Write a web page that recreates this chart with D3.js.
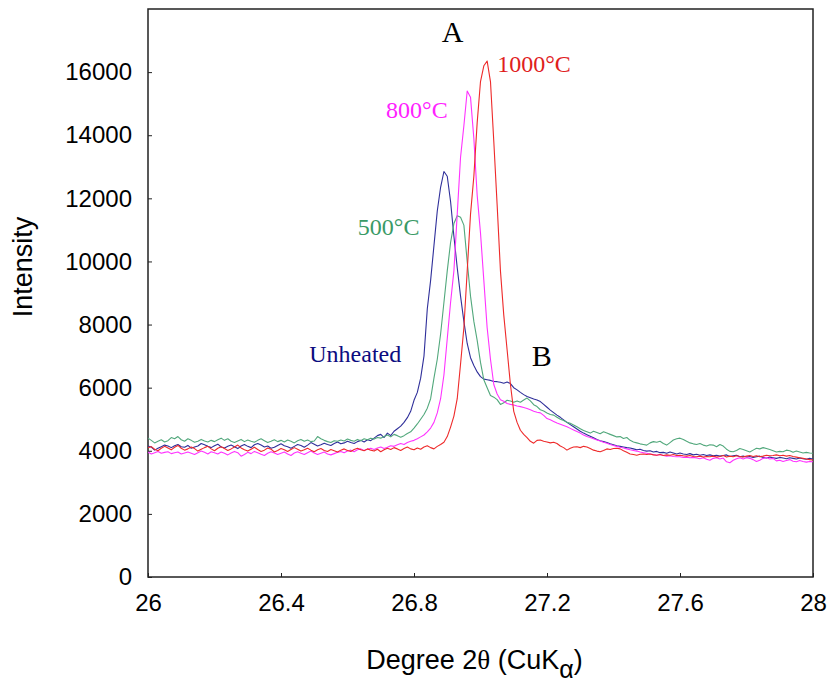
<!DOCTYPE html>
<html>
<head>
<meta charset="utf-8">
<script src="https://cdn.jsdelivr.net/npm/d3@7"></script>
<style>
  html, body { margin: 0; padding: 0; background: #fff; }
  svg { display: block; }
</style>
</head>
<body>
<svg id="chart" width="828" height="683"></svg>
<script>
// ---- data ----
const xStart = 26, xStep = 0.01;
const xTicks = [26, 26.4, 26.8, 27.2, 27.6, 28];
const xTickLabels = ["26", "26.4", "26.8", "27.2", "27.6", "28"];
const yTicks = [0, 2000, 4000, 6000, 8000, 10000, 12000, 14000, 16000];
const yTickLabels = ["0", "2000", "4000", "6000", "8000", "10000", "12000", "14000", "16000"];

const seriesNames = ["Unheated", "500°C", "800°C", "1000°C"];

const unheated = [
 4150,4120,4020,4080,4130,4180,4150,4100,4160,4200,
 4130,4110,4170,4080,4120,4150,4230,4190,4140,4100,
 4160,4210,4120,4090,4140,4180,4130,4070,4150,4200,
 4140,4100,4190,4230,4180,4120,4150,4080,4110,4170,
 4220,4160,4130,4080,4140,4200,4170,4110,4180,4260,
 4210,4150,4190,4240,4200,4170,4230,4280,4220,4250,
 4300,4260,4230,4290,4330,4280,4350,4320,4400,4480,
 4520,4420,4560,4480,4620,4700,4780,4900,5050,5250,
 5600,5850,6300,7000,8500,9400,10500,11600,12350,12850,
 12700,11900,10800,9800,8900,8100,7400,6950,6700,6500,
 6350,6270,6250,6230,6200,6190,6170,6140,6180,6130,
 6000,5930,5850,5780,5720,5680,5640,5610,5560,5470,
 5380,5290,5210,5130,5060,4980,4900,4830,4760,4690,
 4620,4560,4510,4460,4410,4360,4320,4290,4260,4220,
 4190,4160,4140,4120,4100,4090,4060,4030,4050,4010,
 3990,4000,3960,3980,3940,3950,3920,3960,3930,3900,
 3930,3900,3880,3910,3870,3890,3860,3880,3850,3870,
 3840,3860,3830,3850,3870,3820,3840,3860,3810,3830,
 3800,3820,3790,3810,3830,3790,3770,3800,3780,3760,
 3790,3770,3750,3780,3760,3740,3770,3750,3730,3760,
 3740
];

const c500 = [
 4400,4330,4250,4300,4350,4280,4320,4420,4380,4450,
 4350,4300,4380,4330,4270,4300,4360,4310,4280,4330,
 4290,4350,4400,4330,4380,4300,4260,4310,4360,4290,
 4340,4300,4270,4330,4380,4320,4260,4300,4350,4290,
 4330,4280,4340,4300,4250,4320,4360,4300,4340,4290,
 4310,4450,4380,4330,4290,4260,4320,4300,4340,4310,
 4370,4330,4300,4360,4320,4380,4350,4400,4370,4420,
 4400,4450,4500,4440,4520,4480,4430,4480,4550,4600,
 4720,4850,5000,5150,5350,5650,6300,6900,7700,8700,
 9700,10600,11200,11450,11400,11150,10000,8900,8100,7500,
 6800,6250,6000,5750,5700,5620,5470,5520,5600,5580,
 5540,5580,5540,5610,5670,5580,5460,5400,5300,5260,
 5200,5150,5130,5060,5000,4960,4900,4870,4820,4760,
 4700,4640,4600,4560,4620,4580,4540,4600,4560,4520,
 4480,4440,4450,4390,4420,4330,4280,4250,4220,4200,
 4180,4250,4290,4270,4300,4230,4180,4260,4340,4380,
 4400,4360,4300,4250,4220,4200,4230,4180,4150,4190,
 4180,4130,4200,4150,4050,3980,3970,4010,4070,4040,
 4000,3960,4020,4080,4060,4100,4070,4040,4000,3960,
 3980,3970,4020,4000,3950,3990,3960,3930,3950,3930,
 3920
];

const c800 = [
 3960,3900,3940,3980,3920,3950,3970,3910,3940,3960,
 3900,3930,3960,3920,3880,3940,3990,3950,3900,3970,
 3940,3900,3960,3920,3870,3930,3980,3940,3830,3880,
 3950,3910,3980,3940,3890,3850,3920,3970,3930,3880,
 3920,3960,3900,3850,3930,3970,3920,3880,3940,3990,
 3930,3880,3920,3960,3900,3870,3910,3950,3980,3940,
 3990,4020,3970,4030,4060,4010,4050,4080,4040,4090,
 4120,4070,4110,4160,4140,4190,4230,4200,4260,4300,
 4330,4380,4440,4500,4600,4720,4900,5200,5650,6400,
 7550,8700,9700,11500,13300,14300,15400,15200,13900,12100,
 10900,9400,7900,6900,6100,5800,5620,5570,5500,5470,
 5450,5420,5400,5370,5340,5300,5250,5220,5200,5120,
 5020,4980,4930,4880,4840,4800,4760,4710,4660,4610,
 4560,4500,4450,4420,4380,4340,4310,4270,4240,4200,
 4170,4140,4110,4090,4060,4030,4010,3990,3960,3940,
 3920,3900,3880,3860,3880,3850,3830,3840,3820,3810,
 3810,3790,3800,3780,3790,3770,3750,3780,3730,3700,
 3760,3780,3740,3770,3650,3620,3700,3750,3780,3740,
 3780,3760,3720,3660,3700,3760,3790,3740,3760,3680,
 3700,3660,3690,3720,3670,3650,3690,3660,3640,3660,
 3650
];

const c1000 = [
 4100,4130,4050,4000,4080,4140,4090,4030,4110,4170,
 4080,4020,4060,4120,4070,3990,4050,4100,4140,4060,
 4000,4080,4130,4070,4010,4060,4120,4180,4090,4030,
 3990,4050,4110,4040,3980,4020,4090,4050,3960,4010,
 4070,4030,3980,4040,4100,4050,3990,4030,4080,4020,
 3970,4030,4070,4010,3980,4040,4000,3960,4020,4060,
 4010,3980,4040,4080,4030,4000,4060,4020,3990,4050,
 3970,4030,4080,4040,4100,4060,4010,4070,4120,4060,
 4030,4090,4050,4120,4160,4100,4060,4140,4200,4270,
 4450,4750,5100,5650,6750,7900,9700,11500,12700,14400,
 15700,16200,16350,15700,13800,11800,9700,8300,7200,6100,
 5250,4900,4650,4520,4420,4300,4240,4330,4340,4300,
 4280,4250,4270,4230,4150,4100,4020,4080,4120,4130,
 4100,4140,4120,4070,4020,3990,3970,4010,4060,4040,
 4070,4080,4060,4000,3950,3900,3880,3860,3890,3900,
 3880,3900,3870,3860,3880,3850,3870,3860,3880,3850,
 3860,3840,3830,3850,3820,3810,3830,3800,3820,3810,
 3830,3800,3820,3850,3800,3830,3810,3840,3820,3800,
 3830,3850,3820,3840,3810,3830,3860,3840,3850,3870,
 3840,3860,3830,3850,3820,3800,3780,3760,3740,3720,
 3710
];

const seriesValues = [unheated, c500, c800, c1000];
const seriesColors = ["#2f2f9a", "#52a87c", "#ff33ff", "#ee2a2a"];
const labelColors = ["#0c0c80", "#3a9a66", "#ff22ff", "#e0201c"];

// ---- layout ----
const svg = d3.select("#chart");
const margin = { left: 148, right: 15, top: 9, bottom: 106 };
const W = 828, H = 683;
const x = d3.scaleLinear().domain([26, 28]).range([margin.left, W - margin.right]);
const y = d3.scaleLinear().domain([0, 18000]).range([H - margin.bottom, margin.top]);

// frame
svg.append("rect")
  .attr("x", x(26)).attr("y", y(18000))
  .attr("width", x(28) - x(26)).attr("height", y(0) - y(18000))
  .attr("fill", "none").attr("stroke", "#222").attr("stroke-width", 1.5);

// axes
const xAxis = d3.axisBottom(x).tickValues(xTicks)
  .tickFormat((d, i) => xTickLabels[i]).tickSizeInner(-4).tickSizeOuter(0).tickPadding(17);
const yAxis = d3.axisLeft(y).tickValues(yTicks)
  .tickFormat((d, i) => yTickLabels[i]).tickSizeInner(-4).tickSizeOuter(0).tickPadding(16);

const gx = svg.append("g").attr("transform", `translate(0,${y(0)})`).call(xAxis);
const gy = svg.append("g").attr("transform", `translate(${x(26)},0)`).call(yAxis);
[gx, gy].forEach(g => {
  g.select(".domain").remove();
  g.selectAll(".tick line").attr("stroke", "#222").attr("stroke-width", 1);
  g.selectAll(".tick text").attr("fill", "#000")
    .style("font-family", "'Liberation Sans', Arial, Helvetica, sans-serif")
    .style("font-size", "24px");
});

// lines
const line = d3.line()
  .x((d, i) => x(xStart + i * xStep))
  .y(d => y(d));

const clip = svg.append("clipPath").attr("id", "clip")
  .append("rect").attr("x", x(26)).attr("y", y(18000))
  .attr("width", x(28) - x(26)).attr("height", y(0) - y(18000));

const gLines = svg.append("g").attr("clip-path", "url(#clip)");
seriesValues.forEach((vals, k) => {
  gLines.append("path")
    .datum(vals)
    .attr("fill", "none")
    .attr("stroke", seriesColors[k])
    .attr("stroke-width", 1.1)
    .attr("stroke-linejoin", "round")
    .attr("d", line);
});

// axis titles
svg.append("text")
  .attr("transform", `translate(32,${(y(0) + y(18000)) / 2 - 26}) rotate(-90)`)
  .attr("text-anchor", "middle")
  .style("font-family", "'Liberation Sans', Arial, Helvetica, sans-serif")
  .style("font-size", "27px")
  .attr("fill", "#000")
  .text("Intensity");

const xt = svg.append("text")
  .attr("x", (x(26) + x(28)) / 2 - 6)
  .attr("y", 669)
  .attr("text-anchor", "middle")
  .style("font-family", "'Liberation Sans', Arial, Helvetica, sans-serif")
  .style("font-size", "27px")
  .attr("fill", "#000");
xt.append("tspan").text("Degree 2");
xt.append("tspan").style("font-family", "'Liberation Serif', 'Times New Roman', serif").text("θ");
xt.append("tspan").text(" (CuK");
xt.append("tspan").attr("dy", 9).style("font-size", "25px").text("α");
xt.append("tspan").attr("dy", -9).text(")");

// annotations (data-space anchored)
const serif = "'Liberation Serif', 'Times New Roman', Times, serif";
const annLabels = [
  { text: "A", xv: 26.916, yv: 16950, anchor: "middle", size: 30, color: "#000" },
  { text: "1000°C", xv: 27.05, yv: 15990, anchor: "start", size: 24, color: labelColors[3] },
  { text: "800°C", xv: 26.716, yv: 14560, anchor: "start", size: 24, color: labelColors[2] },
  { text: "500°C", xv: 26.631, yv: 10840, anchor: "start", size: 24, color: labelColors[1] },
  { text: "Unheated", xv: 26.485, yv: 6800, anchor: "start", size: 24, color: labelColors[0] },
  { text: "B", xv: 27.154, yv: 6690, anchor: "start", size: 30, color: "#000" }
];
annLabels.forEach(a => {
  svg.append("text")
    .attr("x", x(a.xv)).attr("y", y(a.yv))
    .attr("text-anchor", a.anchor)
    .style("font-family", serif)
    .style("font-size", a.size + "px")
    .attr("fill", a.color)
    .text(a.text);
});
</script>
</body>
</html>
